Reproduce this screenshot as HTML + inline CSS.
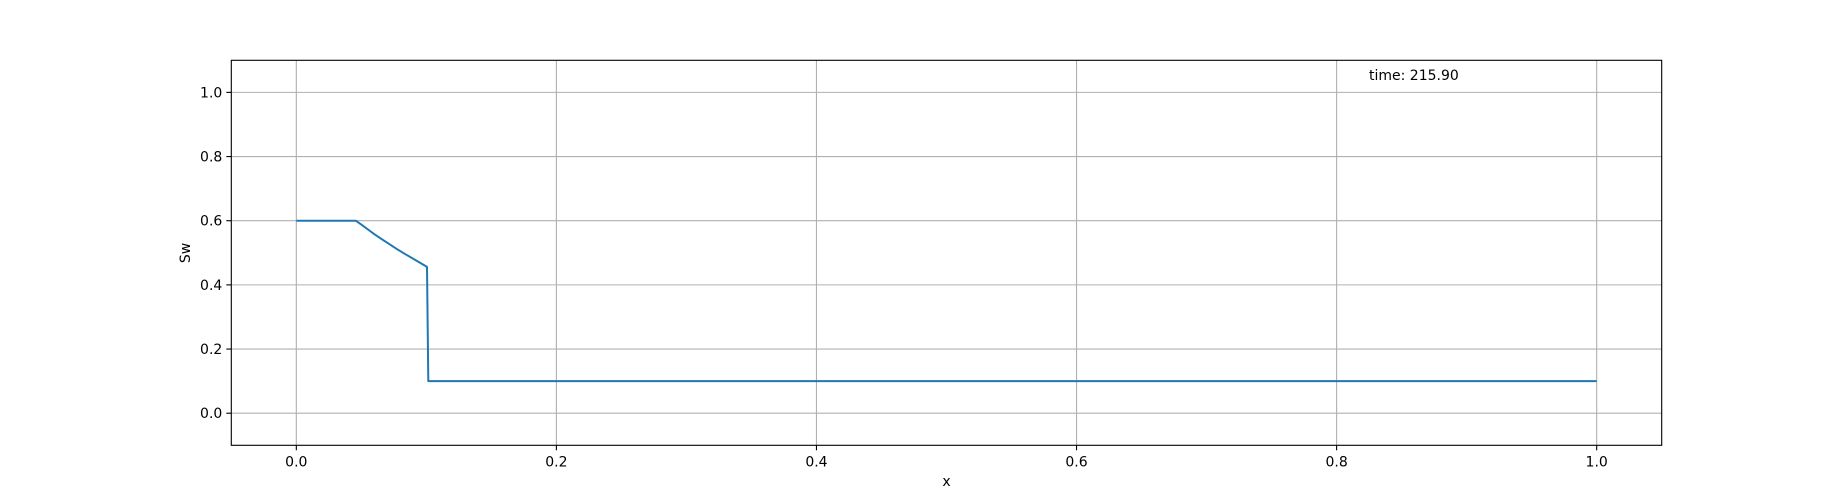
<!DOCTYPE html>
<html><head><meta charset="utf-8"><style>
html,body{margin:0;padding:0;background:#fff;}
svg{display:block;font-family:"DejaVu Sans","Liberation Sans",sans-serif;}
</style></head><body>
<svg id="chart" width="1846" height="500" xmlns="http://www.w3.org/2000/svg">
<rect width="1846" height="500" fill="#fff"/>
<g id="grid"></g>
<g id="series"></g>
<rect x="231.3" y="60.3" width="1430.4" height="385" fill="none" stroke="#000" stroke-width="1.1"/>
<g id="ticks"></g>
<text x="946.5" y="486" font-size="14" text-anchor="middle">x</text>
<text x="0" y="0" font-size="14" text-anchor="middle" transform="translate(190,253) rotate(-90)">Sw</text>
<text x="1369" y="80" font-size="14">time: 215.90</text>
</svg>
<script>
const xTicks = [0.0, 0.2, 0.4, 0.6, 0.8, 1.0];
const xTickLabels = ["0.0", "0.2", "0.4", "0.6", "0.8", "1.0"];
const yTicks = [0.0, 0.2, 0.4, 0.6, 0.8, 1.0];
const yTickLabels = ["0.0", "0.2", "0.4", "0.6", "0.8", "1.0"];
const xValues = [0.0, 0.0457, 0.05, 0.055, 0.06, 0.0644, 0.07, 0.0772, 0.085, 0.093, 0.1005, 0.1015, 1.0];
const swValues = [0.6, 0.6, 0.588, 0.573, 0.558, 0.546, 0.531, 0.512, 0.493, 0.474, 0.456, 0.1, 0.1];

const L = 231.3, R = 1661.7, T = 60.3, B = 445.3;
const xMin = -0.05, xMax = 1.05, yMin = -0.1, yMax = 1.1;
function sx(v) { return L + (v - xMin) / (xMax - xMin) * (R - L); }
function sy(v) { return B - (v - yMin) / (yMax - yMin) * (B - T); }
const NS = "http://www.w3.org/2000/svg";
const grid = document.getElementById('grid');
const ticks = document.getElementById('ticks');
const series = document.getElementById('series');
function mk(tag, attrs, parent) {
  const e = document.createElementNS(NS, tag);
  for (const k in attrs) e.setAttribute(k, attrs[k]);
  parent.appendChild(e);
  return e;
}
xTicks.forEach((v, i) => {
  const x = sx(v);
  const g = mk('line', {x1: x, x2: x, y1: T, y2: B, stroke: '#b0b0b0', 'stroke-width': 1.1}, grid);
  
  
  const t = mk('line', {x1: x, x2: x, y1: B, y2: B + 5, stroke: '#000', 'stroke-width': 1.1}, ticks);
  
  
  const l = mk('text', {x: x, y: B + 21, 'font-size': 14, 'text-anchor': 'middle'}, ticks);
  l.textContent = xTickLabels[i];
  
  
});
yTicks.forEach((v, i) => {
  const y = sy(v);
  const g = mk('line', {x1: L, x2: R, y1: y, y2: y, stroke: '#b0b0b0', 'stroke-width': 1.1}, grid);
  
  
  const t = mk('line', {x1: L - 5, x2: L, y1: y, y2: y, stroke: '#000', 'stroke-width': 1.1}, ticks);
  
  
  const l = mk('text', {x: L - 9, y: y + 5, 'font-size': 14, 'text-anchor': 'end'}, ticks);
  l.textContent = yTickLabels[i];
  
  
});
const pts = xValues.map((v, i) => sx(v).toFixed(2) + ',' + sy(swValues[i]).toFixed(2)).join(' ');
const line = mk('polyline', {points: pts, fill: 'none', stroke: '#1f77b4', 'stroke-width': 2, 'stroke-linejoin': 'round'}, series);


</script>
</body></html>
